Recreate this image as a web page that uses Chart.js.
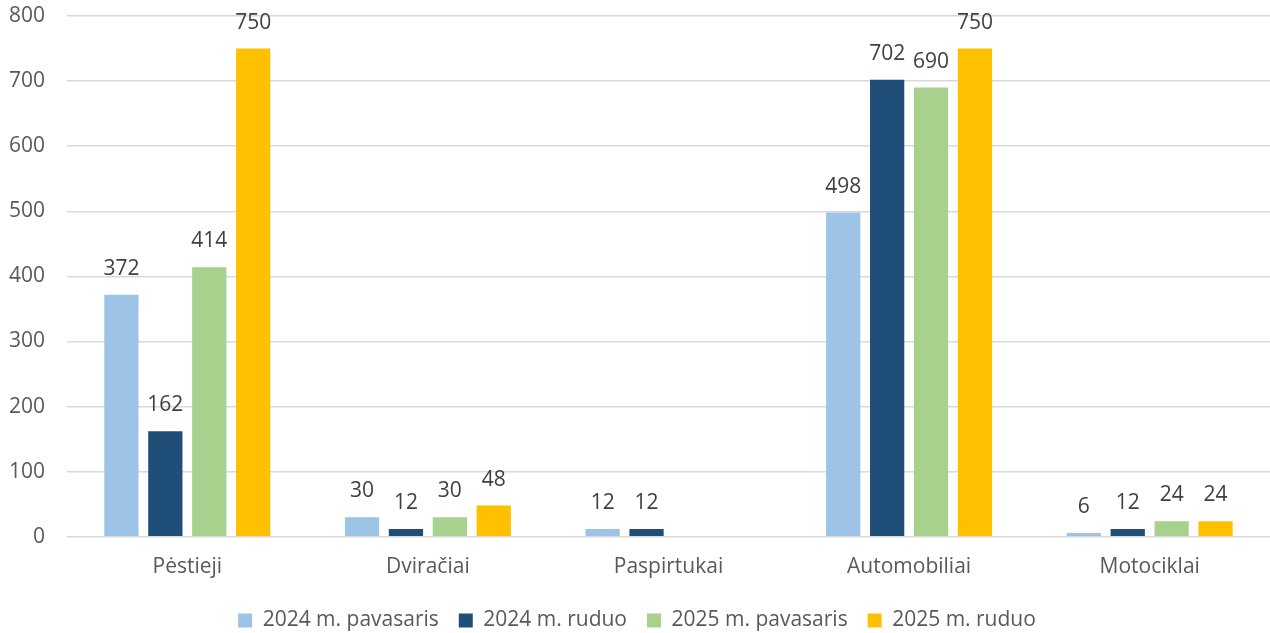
<!DOCTYPE html>
<html>
<head>
<meta charset="utf-8">
<script src="https://cdn.jsdelivr.net/npm/chart.js@4/dist/chart.umd.min.js"></script>
<style>
html, body { margin:0; padding:0; background:#fff; }
#wrap { width:1270px; height:633px; position:relative; }
</style>
</head>
<body>
<div id="wrap"><canvas id="trafficChart"></canvas></div>
<script>
var categories = ["Pėstieji", "Dviračiai", "Paspirtukai", "Automobiliai", "Motociklai"];
var seriesNames = ["2024 m. pavasaris", "2024 m. ruduo", "2025 m. pavasaris", "2025 m. ruduo"];
var spring2024 = [372, 30, 12, 498, 6];
var autumn2024 = [162, 12, 12, 702, 12];
var spring2025 = [414, 30, null, 690, 24];
var autumn2025 = [750, 48, null, 750, 24];
var seriesColors = ["#9DC3E6", "#1F4E79", "#A9D18E", "#FFC000"];
var yTicks = [0, 100, 200, 300, 400, 500, 600, 700, 800];

var fontName = "'Open Sans', 'Noto Sans', sans-serif";

// skaičiai virš stulpelių
var valueLabels = {
	id: 'valueLabels',
	afterDatasetsDraw: function(chart){
		var ctx = chart.ctx;
		ctx.save();
		ctx.font = '21px ' + fontName;
		ctx.fillStyle = '#404040';
		ctx.textAlign = 'center';
		ctx.textBaseline = 'middle';
		chart.data.datasets.forEach(function(ds, i){
			var meta = chart.getDatasetMeta(i);
			meta.data.forEach(function(bar, j){
				if(ds.data[j] == null) return;
				ctx.fillText(ds.data[j], bar.x, bar.y - 26);
			});
		});
		ctx.restore();
	}
};

var allSeries = [spring2024, autumn2024, spring2025, autumn2025];
var datasets = [];
for(var i=0; i<allSeries.length; i++){
	datasets.push({
		label: seriesNames[i],
		data: allSeries[i],
		backgroundColor: seriesColors[i],
		categoryPercentage: 0.73,
		barPercentage: 0.78
	});
}

new Chart(document.getElementById('trafficChart').getContext('2d'), {
	type: 'bar',
	data: { labels: categories, datasets: datasets },
	plugins: [valueLabels],
	options: {
		responsive: true,
		maintainAspectRatio: false,
		animation: false,
		layout: { padding: { top: 16, right: 0, left: 4, bottom: -8 } },
		plugins: {
			legend: {
				position: 'bottom',
				labels: {
					boxWidth: 14, boxHeight: 14, padding: 20,
					color: '#595959',
					font: { family: fontName, size: 21 }
				}
			},
			tooltip: { enabled: false }
		},
		scales: {
			x: {
				grid: { display: false },
				border: { display: false },
				ticks: { color: '#595959', font: { family: fontName, size: 21 }, padding: 10 }
			},
			y: {
				min: 0, max: 800,
				afterBuildTicks: function(axis){
					axis.ticks = yTicks.map(function(v){ return { value: v }; });
				},
				afterFit: function(axis){
					axis.paddingTop = 0;
					axis.width = 63;
				},
				grid: { color: '#D9D9D9', lineWidth: 1.5, drawTicks: false },
				border: { display: false },
				ticks: { color: '#595959', font: { family: fontName, size: 21 }, padding: 22 }
			}
		}
	}
});
</script>
</body>
</html>
